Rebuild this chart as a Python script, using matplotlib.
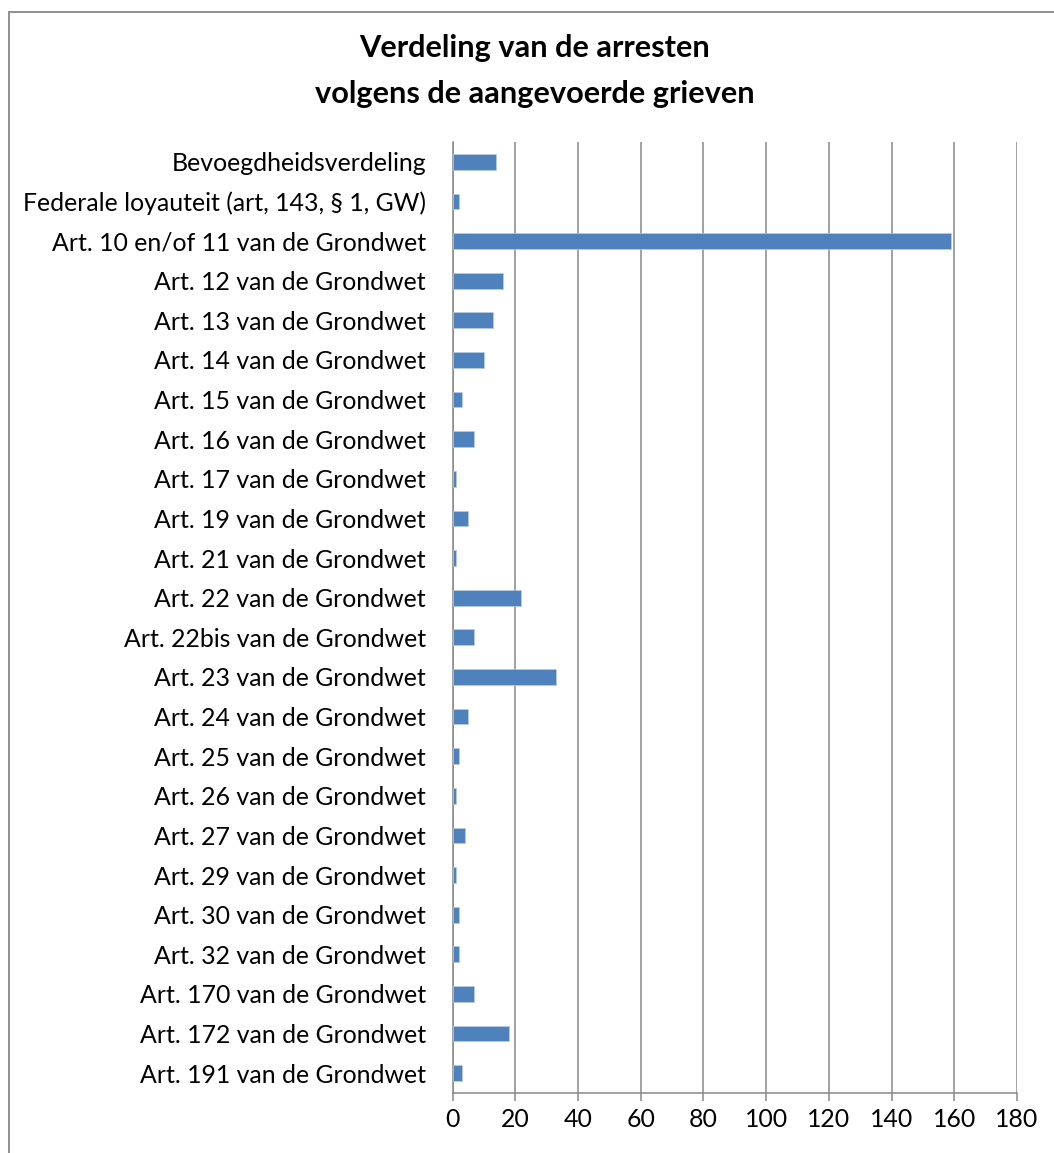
import matplotlib
matplotlib.use("Agg")
import matplotlib.pyplot as plt
from matplotlib.patches import Rectangle

categories = [
    "Bevoegdheidsverdeling",
    "Federale loyauteit (art, 143, § 1, GW)",
    "Art. 10 en/of 11 van de Grondwet",
    "Art. 12 van de Grondwet",
    "Art. 13 van de Grondwet",
    "Art. 14 van de Grondwet",
    "Art. 15 van de Grondwet",
    "Art. 16 van de Grondwet",
    "Art. 17 van de Grondwet",
    "Art. 19 van de Grondwet",
    "Art. 21 van de Grondwet",
    "Art. 22 van de Grondwet",
    "Art. 22bis van de Grondwet",
    "Art. 23 van de Grondwet",
    "Art. 24 van de Grondwet",
    "Art. 25 van de Grondwet",
    "Art. 26 van de Grondwet",
    "Art. 27 van de Grondwet",
    "Art. 29 van de Grondwet",
    "Art. 30 van de Grondwet",
    "Art. 32 van de Grondwet",
    "Art. 170 van de Grondwet",
    "Art. 172 van de Grondwet",
    "Art. 191 van de Grondwet",
]
values = [14, 2, 159, 16, 13, 10, 3, 7, 1, 5, 1, 22, 7, 33, 5, 2, 1, 4, 1, 2, 2, 7, 18, 3]
xticks = [0, 20, 40, 60, 80, 100, 120, 140, 160, 180]
title_lines = ["Verdeling van de arresten", "volgens de aangevoerde grieven"]

FONT = "Lato"
W, H = 1054, 1153
DPI = 100
fig = plt.figure(figsize=(W / DPI, H / DPI), dpi=DPI)
fig.patch.set_facecolor("white")

# fit font sizes to measured widths in the reference
renderer = fig.canvas.get_renderer()
def fit_size(text, target_px, weight="normal"):
    t = fig.text(0, 0, text, fontsize=10, family=FONT, fontweight=weight)
    w = t.get_window_extent(renderer=renderer).width
    t.remove()
    return 10 * target_px / w

label_fs = fit_size("Federale loyauteit (art, 143, § 1, GW)", 404)
title_fs = fit_size("volgens de aangevoerde grieven", 442, weight="bold")

# outer chart frame
fig.patches.append(Rectangle((8.5 / W, -0.05), (W + 20) / W, 1 - 11.5 / H + 0.05,
                             transform=fig.transFigure, fill=False,
                             edgecolor="#888888", linewidth=1.3))

left, right = 452.5 / W, 1017 / W
top, bottom = 1 - 142 / H, 1 - 1093 / H
ax = fig.add_axes([left, bottom, right - left, top - bottom])

ypos = list(range(len(categories)))
ax.barh(ypos, values, height=0.4, color="#4F81BD", edgecolor="#b8cce4", linewidth=0.5, zorder=3)
ax.set_ylim(len(categories) - 0.5, -0.5)
ax.set_xlim(0, 180)
ax.set_yticks(ypos)
ax.set_yticklabels(categories, family=FONT, fontsize=label_fs)
ax.set_xticks(xticks)
ax.set_xticklabels([str(v) for v in xticks], family=FONT, fontsize=label_fs)
ax.tick_params(axis="y", length=0, pad=19)
ax.tick_params(axis="x", length=6, width=1.1, color="#888888", pad=5)
ax.grid(axis="x", color="#888888", linewidth=1.1, zorder=0)
for s in ["top", "right"]:
    ax.spines[s].set_visible(False)
for s in ["left", "bottom"]:
    ax.spines[s].set_color("#888888")
    ax.spines[s].set_linewidth(1.1)
ax.set_axisbelow(True)

fig.text(535 / W, 1 - 48 / H, title_lines[0], ha="center", va="center",
         family=FONT, fontweight="bold", fontsize=title_fs)
fig.text(535 / W, 1 - 94 / H, title_lines[1], ha="center", va="center",
         family=FONT, fontweight="bold", fontsize=title_fs)

fig.savefig("out.png", dpi=DPI, facecolor="white")
